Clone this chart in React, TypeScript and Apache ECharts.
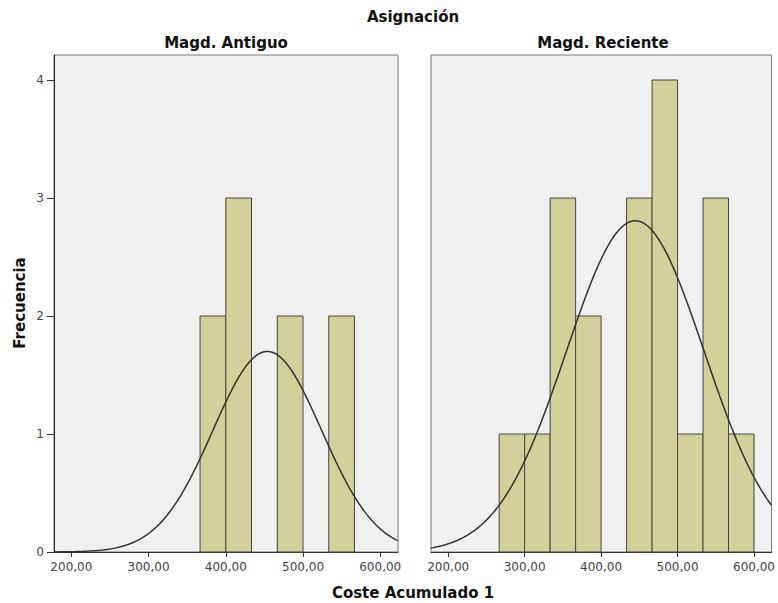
import React, { useEffect, useRef } from "react";
import * as echarts from "echarts";

// Bin edges (Coste Acumulado 1) and frequencies
const binWidth = 100 / 3;
const leftBinStarts = [366.67, 400, 433.33, 466.67, 500, 533.33];
const leftCounts = [2, 3, 0, 2, 0, 2];
const rightBinStarts = [266.67, 300, 333.33, 366.67, 400, 433.33, 466.67, 500, 533.33, 566.67];
const rightCounts = [1, 1, 3, 2, 0, 3, 4, 1, 3, 1];

// Fitted normal curve parameters (mean, standard deviation, N)
const leftNormal = { mean: 453.7, sd: 70.4, n: 9 };
const rightNormal = { mean: 444.7, sd: 90.0, n: 19 };

const xTicks = [200, 300, 400, 500, 600];
const yTicks = [0, 1, 2, 3, 4];
const panelTitles = ["Magd. Antiguo", "Magd. Reciente"];
const mainTitle = "Asignación";
const xTitle = "Coste Acumulado 1";
const yTitle = "Frecuencia";

const X_MIN = 177.5;
const X_MAX = 623;
const Y_MAX = 4.212;
const FONT = "DejaVu Sans";

function binsData(starts: number[], counts: number[]) {
  return starts.map((s, i) => [s, s + binWidth, counts[i]]);
}

function normalCurve(p: { mean: number; sd: number; n: number }) {
  const pts: number[][] = [];
  for (let x = X_MIN; x <= X_MAX + 0.001; x += 2.5) {
    const z = (x - p.mean) / p.sd;
    const y = (p.n * binWidth * Math.exp(-0.5 * z * z)) / (p.sd * Math.sqrt(2 * Math.PI));
    pts.push([x, y]);
  }
  return pts;
}

const renderBar = (params: any, api: any) => {
  const x0 = api.value(0);
  const x1 = api.value(1);
  const c = api.value(2);
  if (!c) return null;
  const p0 = api.coord([x0, c]);
  const p1 = api.coord([x1, 0]);
  return {
    type: "rect",
    shape: { x: p0[0], y: p0[1], width: p1[0] - p0[0], height: p1[1] - p0[1] },
    style: { fill: "#d3cf98", stroke: "#464646", lineWidth: 1 },
  };
};

export default function App() {
  const ref = useRef<HTMLDivElement>(null);
  useEffect(() => {
    if (!ref.current) return;
    const chart = echarts.init(ref.current, undefined, { renderer: "svg" });
    const fmt = (v: number) => v.toFixed(2).replace(".", ",");
    const xAxisBase = (gi: number) => ({
      type: "value" as const,
      gridIndex: gi,
      min: X_MIN,
      max: X_MAX,
      splitLine: { show: false },
      axisLine: { show: true, lineStyle: { color: "#333", width: 1 } },
      axisTick: { show: true, length: 5, customValues: xTicks, lineStyle: { color: "#333" } },
      axisLabel: {
        customValues: xTicks,
        formatter: fmt,
        color: "#444",
        fontFamily: FONT,
        fontSize: 12,
        margin: 9,
      },
    });
    const option: any = {
      animation: false,
      textStyle: { fontFamily: FONT },
      grid: [
        { left: 54, top: 55, width: 344, height: 497, show: true, backgroundColor: "#f0f0f0", borderColor: "#777", borderWidth: 1 },
        { left: 431, top: 55, width: 343, height: 497, show: true, backgroundColor: "#f0f0f0", borderColor: "#777", borderWidth: 1 },
      ],
      xAxis: [xAxisBase(0), xAxisBase(1)],
      yAxis: [
        {
          type: "value",
          gridIndex: 0,
          min: 0,
          max: Y_MAX,
          splitLine: { show: false },
          axisLine: { show: true, lineStyle: { color: "#222" } },
          axisTick: { show: true, length: 7, customValues: yTicks, lineStyle: { color: "#333" } },
          axisLabel: { customValues: yTicks, color: "#444", fontFamily: FONT, fontSize: 12, margin: 10 },
        },
        {
          type: "value",
          gridIndex: 1,
          min: 0,
          max: Y_MAX,
          splitLine: { show: false },
          axisLine: { show: false },
          axisTick: { show: false },
          axisLabel: { show: false },
        },
      ],
      series: [
        {
          type: "custom",
          xAxisIndex: 0,
          yAxisIndex: 0,
          renderItem: renderBar,
          encode: { x: [0, 1], y: 2 },
          data: binsData(leftBinStarts, leftCounts),
        },
        {
          type: "custom",
          xAxisIndex: 1,
          yAxisIndex: 1,
          renderItem: renderBar,
          encode: { x: [0, 1], y: 2 },
          data: binsData(rightBinStarts, rightCounts),
        },
        {
          type: "line",
          xAxisIndex: 0,
          yAxisIndex: 0,
          showSymbol: false,
          lineStyle: { color: "#333", width: 1.5 },
          data: normalCurve(leftNormal),
          z: 5,
        },
        {
          type: "line",
          xAxisIndex: 1,
          yAxisIndex: 1,
          showSymbol: false,
          lineStyle: { color: "#333", width: 1.5 },
          data: normalCurve(rightNormal),
          z: 5,
        },
      ],
      graphic: [
        {
          type: "text",
          x: 413,
          y: 17,
          style: { text: mainTitle, font: `bold 15px "${FONT}"`, fill: "#111", textAlign: "center", textVerticalAlign: "middle" },
        },
        {
          type: "text",
          x: 226,
          y: 43,
          style: { text: panelTitles[0], font: `bold 15px "${FONT}"`, fill: "#111", textAlign: "center", textVerticalAlign: "middle" },
        },
        {
          type: "text",
          x: 603,
          y: 43,
          style: { text: panelTitles[1], font: `bold 15px "${FONT}"`, fill: "#111", textAlign: "center", textVerticalAlign: "middle" },
        },
        {
          type: "text",
          x: 413,
          y: 593,
          style: { text: xTitle, font: `bold 15px "${FONT}"`, fill: "#111", textAlign: "center", textVerticalAlign: "middle" },
        },
        {
          type: "text",
          x: 20,
          y: 303,
          rotation: Math.PI / 2,
          style: { text: yTitle, font: `bold 15px "${FONT}"`, fill: "#111", textAlign: "center", textVerticalAlign: "middle" },
        },
      ],
    };
    chart.setOption(option);
    return () => chart.dispose();
  }, []);
  return (
    <div
      ref={ref}
      style={{ position: "fixed", left: 0, top: 0, width: 778, height: 603, background: "#fff" }}
    />
  );
}
